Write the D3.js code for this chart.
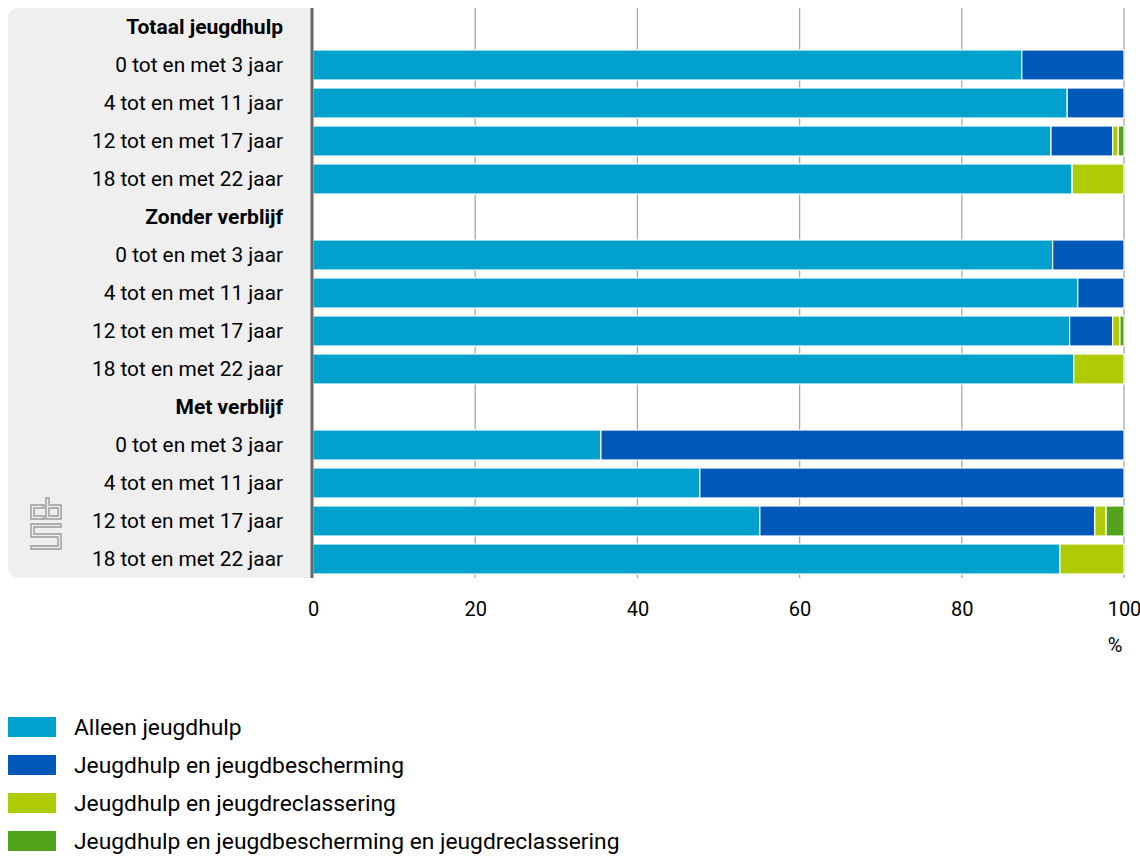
<!DOCTYPE html>
<html><head><meta charset="utf-8">
<script src="https://cdn.jsdelivr.net/npm/d3@7"></script>
<style>
html,body{margin:0;padding:0;background:#fff;}
svg{display:block;font-family:"Roboto",sans-serif;}
</style></head>
<body>
<svg id="chart" width="1140" height="857"></svg>
<script>
const groups = ["Totaal jeugdhulp", "Zonder verblijf", "Met verblijf"];
const ages = ["0 tot en met 3 jaar", "4 tot en met 11 jaar", "12 tot en met 17 jaar", "18 tot en met 22 jaar"];
const seriesNames = ["Alleen jeugdhulp", "Jeugdhulp en jeugdbescherming", "Jeugdhulp en jeugdreclassering", "Jeugdhulp en jeugdbescherming en jeugdreclassering"];
const colors = ["#00a1cd", "#0058b8", "#afcb05", "#53a31d"];
// values per row (group x age order)
const alleen       = [87.4, 93.0, 91.0, 93.6, 91.2, 94.3, 93.3, 93.8, 35.5, 47.7, 55.1, 92.1];
const bescherming  = [12.6,  7.0,  7.6,  0.0,  8.8,  5.7,  5.3,  0.0, 64.5, 52.3, 41.3,  0.0];
const reclassering = [ 0.0,  0.0,  0.7,  6.4,  0.0,  0.0,  0.9,  6.2,  0.0,  0.0,  1.4,  7.9];
const beide        = [ 0.0,  0.0,  0.7,  0.0,  0.0,  0.0,  0.5,  0.0,  0.0,  0.0,  2.2,  0.0];
const xTicks = [0, 20, 40, 60, 80, 100];

const svg = d3.select("#chart");
const pLeft = 313, pRight = 1124, pTop = 8, pBottom = 578;

const rows = [];
let k = 0;
groups.forEach((g, gi) => {
  rows.push({key: "h" + gi, label: g, header: true});
  ages.forEach((a, ai) => {
    rows.push({key: "r" + gi + "_" + ai, label: a, header: false,
      vals: [alleen[k], bescherming[k], reclassering[k], beide[k]]});
    k++;
  });
});

const y = d3.scaleBand().domain(rows.map(r => r.key)).range([pTop, pBottom]).paddingInner(0.21).paddingOuter(0.105);
const x = d3.scaleLinear().domain([0, 100]).range([pLeft, pRight]);

svg.append("path")
  .attr("d", `M${pLeft-1},${pTop} H${8+12} Q8,${pTop} 8,${pTop+12} V${pBottom-12} Q8,${pBottom} ${8+12},${pBottom} H${pLeft-1} Z`)
  .attr("fill", "#efefef");

svg.append("g").selectAll("line").data(xTicks.filter(t => t > 0)).join("line")
  .attr("x1", d => x(d)).attr("x2", d => x(d))
  .attr("y1", pTop).attr("y2", pBottom)
  .attr("stroke", "#a8a8a8").attr("stroke-width", 1.3);

const barG = svg.append("g");
rows.filter(r => !r.header).forEach(r => {
  let cum = 0;
  r.vals.forEach((v, i) => {
    if (v > 0) {
      barG.append("rect")
        .attr("x", x(cum)).attr("width", x(cum + v) - x(cum))
        .attr("y", y(r.key)).attr("height", y.bandwidth())
        .attr("fill", colors[i]).attr("stroke", "#fff").attr("stroke-width", 1.2);
    }
    cum += v;
  });
});

svg.append("g").selectAll("text").data(rows).join("text")
  .attr("x", 283).attr("y", d => y(d.key) + y.bandwidth() / 2)
  .attr("dy", "0.35em").attr("text-anchor", "end")
  .attr("font-size", d => d.header ? 21 : 20.8).attr("fill", "#000")
  .attr("font-weight", d => d.header ? "bold" : "normal")
  .text(d => d.label);

svg.append("line").attr("x1", pLeft - 1).attr("x2", pLeft - 1).attr("y1", pTop).attr("y2", pBottom)
  .attr("stroke", "#666").attr("stroke-width", 3);

const xAxis = d3.axisBottom(x).tickValues(xTicks).tickSize(0).tickPadding(20);
const ax = svg.append("g").attr("transform", `translate(0,${pBottom + 4})`).call(xAxis);
ax.select(".domain").remove();
ax.selectAll("text").attr("font-size", 20).attr("fill", "#000").attr("font-family", "Roboto, sans-serif");
svg.append("text").attr("x", 1115).attr("y", 652).attr("text-anchor", "middle")
  .attr("font-size", 20).text("%");

const lg = svg.append("g").selectAll("g").data(seriesNames).join("g")
  .attr("transform", (d, i) => `translate(8,${717 + i * 38})`);
lg.append("rect").attr("width", 48).attr("height", 20).attr("fill", (d, i) => colors[i]);
lg.append("text").attr("x", 66).attr("y", 10).attr("dy", "0.35em").attr("font-size", 22.8).text(d => d);

const logo = svg.append("g").attr("transform", "translate(31,498)")
  .attr("fill", "none").attr("stroke", "#9a9a9a").attr("stroke-width", 1.4);
logo.append("path").attr("d", "M13,7 H0 V21 H13 V18 H3 V10 H13 Z");
logo.append("path").attr("d", "M15,0 H18 V7 H30 V21 H15 Z M18,10 H27 V18 H18 Z");
logo.append("path").attr("d", "M30,26 H0 V39 H27 V48 H0 V51 H30 V36 H3 V29 H30 Z");
</script>
</body></html>
